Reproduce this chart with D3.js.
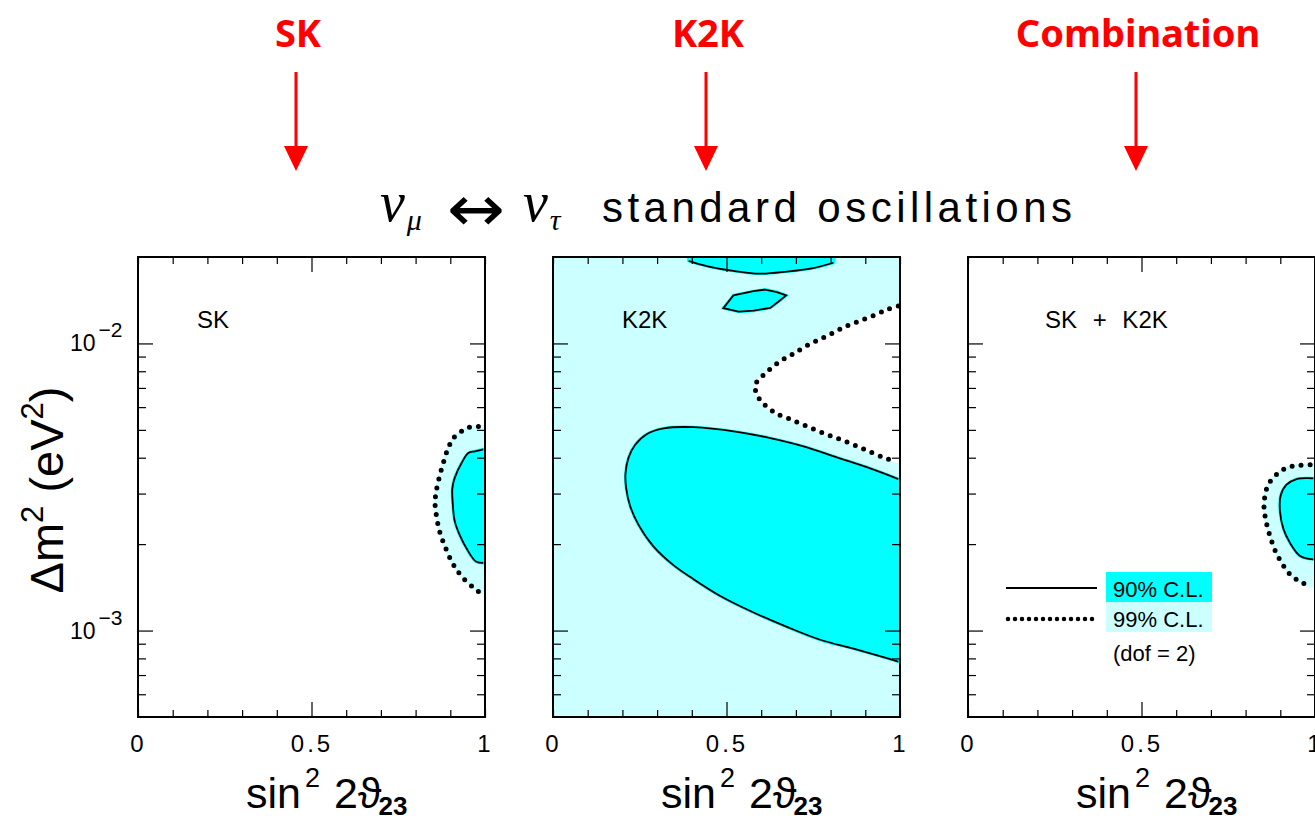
<!DOCTYPE html>
<html>
<head>
<meta charset="utf-8">
<script src="https://cdn.jsdelivr.net/npm/d3@7"></script>
<style>
  body { margin: 0; background: #fff; }
  svg { display: block; }
  text { font-family: "Liberation Sans", Arial, sans-serif; }
</style>
</head>
<body>
<svg id="chart" width="1315" height="820"></svg>
<script>
// ---- data: [sin^2 2theta, dm^2 (eV^2)] ----
const headers = ["SK", "K2K", "Combination"];
const panelNames = ["SK", "K2K", "SK + K2K"];
const xTicks = [0, 0.1, 0.2, 0.3, 0.4, 0.5, 0.6, 0.7, 0.8, 0.9, 1];
const xLabels = [0, 0.5, 1];
const yMajor = [1e-3, 1e-2];
const yMinor = [6e-4, 7e-4, 8e-4, 9e-4, 2e-3, 3e-3, 4e-3, 5e-3, 6e-3, 7e-3, 8e-3, 9e-3];
const legendLabels = ["90% C.L.", "99% C.L.", "(dof = 2)"];

const sk99 = [[0.981,5.14e-3],[0.957,5.11e-3],[0.938,4.99e-3],[0.911,4.71e-3],[0.894,4.32e-3],
  [0.880,3.84e-3],[0.868,3.41e-3],[0.859,3.03e-3],[0.856,2.78e-3],[0.861,2.47e-3],[0.870,2.20e-3],
  [0.885,1.96e-3],[0.904,1.74e-3],[0.923,1.60e-3],[0.947,1.48e-3],[0.971,1.40e-3],[0.984,1.36e-3]];
const sk90 = [[0.995,4.28e-3],[0.971,4.21e-3],[0.952,4.15e-3],[0.933,3.84e-3],[0.913,3.41e-3],
  [0.906,3.13e-3],[0.907,2.78e-3],[0.913,2.40e-3],[0.928,2.14e-3],[0.947,1.93e-3],[0.974,1.74e-3],
  [0.995,1.72e-3]];

const k2k99 = [[0.995,1.35e-2],[0.962,1.31e-2],[0.923,1.25e-2],[0.885,1.20e-2],[0.846,1.15e-2],
  [0.808,1.09e-2],[0.770,1.035e-2],[0.731,9.82e-3],[0.693,9.20e-3],[0.664,8.81e-3],[0.635,8.32e-3],
  [0.611,7.85e-3],[0.589,7.40e-3],[0.582,7.08e-3],[0.587,6.68e-3],[0.599,6.30e-3],[0.616,6.03e-3],
  [0.645,5.69e-3],[0.683,5.45e-3],[0.722,5.21e-3],[0.770,4.92e-3],[0.818,4.68e-3],[0.866,4.44e-3],
  [0.914,4.19e-3],[0.962,3.97e-3],[0.990,3.89e-3]];
const k2k90 = [[0.995,3.37e-3],[0.914,3.67e-3],[0.818,4.01e-3],[0.722,4.38e-3],[0.626,4.68e-3],
  [0.530,4.92e-3],[0.405,5.11e-3],[0.319,5.06e-3],[0.271,4.84e-3],[0.237,4.44e-3],[0.218,4.01e-3],
  [0.209,3.52e-3],[0.211,3.13e-3],[0.223,2.70e-3],[0.247,2.33e-3],[0.290,1.96e-3],[0.347,1.69e-3],
  [0.405,1.51e-3],[0.482,1.32e-3],[0.578,1.156e-3],[0.674,1.03e-3],[0.770,9.29e-4],[0.866,8.65e-4],
  [0.942,8.15e-4],[0.995,7.80e-4]];
const k2kTop = [[0.391,1.94e-2],[0.443,1.86e-2],[0.520,1.79e-2],[0.597,1.75e-2],[0.674,1.78e-2],
  [0.750,1.83e-2],[0.808,1.91e-2]];
const k2kIsland = [[0.491,1.327e-2],[0.520,1.47e-2],[0.578,1.52e-2],[0.611,1.54e-2],[0.645,1.51e-2],
  [0.672,1.47e-2],[0.650,1.40e-2],[0.626,1.33e-2],[0.578,1.30e-2],[0.535,1.29e-2]];

const comb99 = [[0.986,3.78e-3],[0.957,3.76e-3],[0.928,3.72e-3],[0.904,3.61e-3],[0.885,3.46e-3],
  [0.865,3.22e-3],[0.856,2.95e-3],[0.853,2.70e-3],[0.859,2.40e-3],[0.870,2.14e-3],[0.885,1.90e-3],
  [0.904,1.72e-3],[0.928,1.57e-3],[0.957,1.48e-3],[0.986,1.43e-3]];
const comb90 = [[0.995,3.39e-3],[0.947,3.37e-3],[0.918,3.22e-3],[0.901,2.95e-3],[0.899,2.62e-3],
  [0.909,2.26e-3],[0.928,2.02e-3],[0.957,1.82e-3],[0.995,1.77e-3]];

// ---- layout ----
const CYAN = "#00ffff", PALE = "#ccffff";
const W = 347, yTop = 257, yBot = 717;
const x0s = [138, 553, 968];
const arrowX = [296, 706, 1136];
const svg = d3.select("#chart");
const y = d3.scaleLog().domain([5e-4, 2e-2]).range([yBot, yTop]);

// header labels and red arrows
headers.forEach((h, i) => {
  svg.append("text").attr("x", arrowX[i] + 2).attr("y", 47)
    .attr("text-anchor", "middle").attr("fill", "#ff0000")
    .style("font-family", "'Comic Sans MS','Noto Sans',sans-serif")
    .style("font-weight", "bold").style("font-size", "38px").text(h);
  svg.append("line").attr("x1", arrowX[i]).attr("x2", arrowX[i]).attr("y1", 72).attr("y2", 150)
    .attr("stroke", "#ff0000").attr("stroke-width", 3);
  svg.append("path").attr("fill", "#ff0000")
    .attr("d", `M${arrowX[i]-12},146L${arrowX[i]+12},146L${arrowX[i]},171Z`);
});

// title
const tg = svg.append("g");
const nu = (x, sub) => {
  tg.append("text").attr("x", x).attr("y", 221)
    .style("font-family", "'Liberation Serif',serif").style("font-style", "italic")
    .style("font-size", "56px")
    .call(t => {
      t.append("tspan").text("ν");
      t.append("tspan").attr("dx", 2).attr("dy", 9).style("font-size", "30px").text(sub);
    });
};
nu(380, "μ");
tg.append("text").attr("x", 447).attr("y", 231).attr("textLength", 58).attr("lengthAdjust", "spacingAndGlyphs")
  .style("font-family", "'DejaVu Sans ExtraLight','DejaVu Sans',sans-serif").style("font-size", "64px").text("↔");
nu(523, "τ");
tg.append("text").attr("x", 602).attr("y", 222).attr("textLength", 470).attr("lengthAdjust", "spacing")
  .style("font-family", "'DejaVu Sans ExtraLight','Liberation Sans',sans-serif")
  .style("font-size", "42px").text("standard  oscillations");

// y axis title
svg.append("text").attr("transform", "translate(63,490) rotate(-90)").attr("text-anchor", "middle")
  .style("font-size", "47px")
  .call(t => {
    t.append("tspan").text("Δm");
    t.append("tspan").attr("dy", -20).style("font-size", "31px").text("2");
    t.append("tspan").attr("dy", 20).text(" (eV");
    t.append("tspan").attr("dy", -20).style("font-size", "31px").text("2");
    t.append("tspan").attr("dy", 20).text(")");
  });

const dataSets = [
  {bg: "#fff", pale: [[sk99, "edge"]], white: [], fills: [[sk90, "edge"]], solid: [sk90], dotted: [sk99]},
  {bg: PALE, pale: [], white: [[k2k99, "edge"]],
   fills: [[k2k90, "edge"], [k2kTop, "top"], [k2kIsland, "closed"]],
   solid: [k2k90, k2kTop], dotted: [k2k99]},
  {bg: "#fff", pale: [[comb99, "edge"]], white: [], fills: [[comb90, "edge"]], solid: [comb90], dotted: [comb99]}
];

dataSets.forEach((ds, i) => {
  const x = d3.scaleLinear().domain([0, 1]).range([x0s[i], x0s[i] + W]);
  const g = svg.append("g");
  const clipId = "clip" + i;
  g.append("clipPath").attr("id", clipId).append("rect")
    .attr("x", x(0)).attr("y", yTop).attr("width", W).attr("height", yBot - yTop);
  const area = g.append("g").attr("clip-path", `url(#${clipId})`);
  area.append("rect").attr("x", x(0)).attr("y", yTop).attr("width", W).attr("height", yBot - yTop).attr("fill", ds.bg);

  const line = d3.line().x(d => x(d[0])).y(d => y(d[1])).curve(d3.curveCatmullRom);
  const lineLin = d3.line().x(d => x(d[0])).y(d => y(d[1])).curve(d3.curveLinearClosed);
  const shape = ([pts, mode]) => {
    if (mode === "closed") return lineLin(pts);
    const a = pts[0], b = pts[pts.length - 1];
    if (mode === "top") return line(pts) + `L${x(b[0] + 0.01)},${y(2.3e-2)}L${x(a[0] - 0.01)},${y(2.3e-2)}Z`;
    return line(pts) + `L${x(1.03)},${y(b[1])}L${x(1.03)},${y(a[1])}Z`;
  };
  const fill = (list, color) => list.forEach(s => area.append("path").attr("d", shape(s))
    .attr("fill", color).attr("stroke", color).attr("stroke-width", 3));
  fill(ds.pale, PALE);
  fill(ds.white, "#fff");
  fill(ds.fills, CYAN);

  ds.solid.forEach(pts => area.append("path").attr("d", line(pts))
    .attr("fill", "none").attr("stroke", "#000").attr("stroke-width", 1.8));
  if (i === 1) area.append("path").attr("d", lineLin(k2kIsland))
    .attr("fill", "none").attr("stroke", "#000").attr("stroke-width", 1.8);
  ds.dotted.forEach(pts => area.append("path").attr("d", line(pts))
    .attr("fill", "none").attr("stroke", "#000").attr("stroke-width", 5)
    .attr("stroke-linecap", "round").attr("stroke-dasharray", "0 9"));

  // axes (ticks pointing inward)
  const isMajorX = d => Math.abs(d - 0.5) < 1e-9;
  const isMajorY = d => yMajor.includes(d);
  const noDomain = a => a.select(".domain").remove();
  const bx = g.append("g").attr("transform", `translate(0,${yBot})`)
    .call(d3.axisBottom(x).tickValues(xTicks).tickSize(-7)
      .tickFormat(d => xLabels.includes(d) ? String(d) : ""))
    .call(noDomain);
  bx.attr("font-size", 24).attr("font-family", null);
  bx.selectAll(".tick line").attr("y2", d => isMajorX(d) ? -15 : -7).attr("stroke-width", 1.2);
  bx.selectAll(".tick text").attr("y", 35).attr("dy", null)
    .style("letter-spacing", "3px").attr("fill", "#000");
  const tx = g.append("g").attr("transform", `translate(0,${yTop})`)
    .call(d3.axisTop(x).tickValues(xTicks).tickSize(-7).tickFormat("")).call(noDomain);
  tx.selectAll(".tick line").attr("y2", d => isMajorX(d) ? 15 : 7).attr("stroke-width", 1.2);
  const ly = g.append("g").attr("transform", `translate(${x(0)},0)`)
    .call(d3.axisLeft(y).tickValues(yMajor.concat(yMinor)).tickSize(-8).tickFormat("")).call(noDomain);
  ly.selectAll(".tick line").attr("x2", d => isMajorY(d) ? 15 : 8).attr("stroke-width", 1.2);
  const ry = g.append("g").attr("transform", `translate(${x(1)},0)`)
    .call(d3.axisRight(y).tickValues(yMajor.concat(yMinor)).tickSize(-8).tickFormat("")).call(noDomain);
  ry.selectAll(".tick line").attr("x2", d => isMajorY(d) ? -15 : -8).attr("stroke-width", 1.2);

  g.append("rect").attr("x", x(0)).attr("y", yTop).attr("width", W).attr("height", yBot - yTop)
    .attr("fill", "none").attr("stroke", "#000").attr("stroke-width", 2);

  // panel name
  const nameOff = [59, 69, 77][i];
  g.append("text").attr("x", x(0) + nameOff).attr("y", 328).style("font-size", "24px")
    .style("word-spacing", i === 2 ? "9px" : null).text(panelNames[i]);

  // x axis title
  g.append("text").attr("x", x(0) + 108).attr("y", 808).style("font-size", "43px")
    .call(t => {
      t.append("tspan").text("sin");
      t.append("tspan").attr("dx", 4).attr("dy", -21).style("font-size", "27px").text("2");
      t.append("tspan").attr("dx", 14).attr("dy", 21).text("2");
      t.append("tspan").style("font-family", "'DejaVu Sans',sans-serif").style("font-weight", "300").text("ϑ");
      t.append("tspan").attr("dx", -3).attr("dy", 7).style("font-size", "26px").style("font-weight", "bold").text("23");
    });

  if (i === 0) {
    yMajor.forEach(v => {
      g.append("text").attr("x", 70).attr("y", y(v) + 8).style("font-size", "23px")
        .call(t => {
          t.append("tspan").text("10");
          t.append("tspan").attr("dx", 3).attr("dy", -14).style("font-size", "21px")
            .text("−" + String(-Math.round(Math.log10(v))));
        });
    });
  }

  if (i === 2) {
    const lx = x(0);
    g.append("rect").attr("x", lx + 138).attr("y", 572).attr("width", 106).attr("height", 30).attr("fill", CYAN);
    g.append("rect").attr("x", lx + 138).attr("y", 602).attr("width", 106).attr("height", 30).attr("fill", PALE);
    g.append("line").attr("x1", lx + 38).attr("x2", lx + 129).attr("y1", 588).attr("y2", 588)
      .attr("stroke", "#000").attr("stroke-width", 1.8);
    g.append("line").attr("x1", lx + 40).attr("x2", lx + 125).attr("y1", 619).attr("y2", 619)
      .attr("stroke", "#000").attr("stroke-width", 4.5).attr("stroke-linecap", "round")
      .attr("stroke-dasharray", "0 7");
    [597, 627, 661].forEach((yy, k) => g.append("text").attr("x", lx + 145).attr("y", yy)
      .style("font-size", "22px").text(legendLabels[k]));
  }
});
</script>
</body>
</html>
